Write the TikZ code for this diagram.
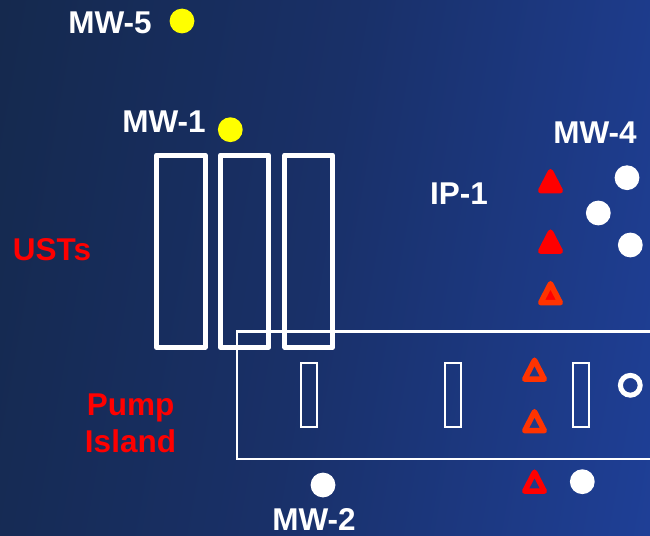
\documentclass[tikz,border=0pt]{standalone}
\usepackage{fontspec}
\setmainfont{Liberation Sans}
\definecolor{bgleft}{HTML}{14284A}
\definecolor{bgmid}{HTML}{193068}
\definecolor{bgright}{HTML}{1F4099}
\definecolor{triorange}{HTML}{FF3300}
\definecolor{markyellow}{HTML}{FFFF00}
\tikzset{
  ust/.style={draw=white,line width=5pt,line join=round},
  thinbox/.style={draw=white,line width=2.3pt},
  well/.style={circle,inner sep=0pt,minimum size=24.8pt,fill=white},
  yellowwell/.style={well,fill=markyellow},
  ringwell/.style={circle,inner sep=0pt,minimum size=19.8pt,draw=white,line width=5pt},
  whitelabel/.style={text=white,font=\fontsize{31.5}{31.5}\selectfont\bfseries,anchor=base,inner sep=0pt},
  redlabel/.style={text=red,font=\fontsize{31.5}{37}\selectfont\bfseries,anchor=base,inner sep=0pt,align=center},
  tri/.style={line width=5.5pt,line join=round}
}
\newcommand{\trimark}[3]{\path[tri,#3] (#1-9.8,#2+9.7) -- (#1,#2-9.3) -- (#1+9.8,#2+9.7) -- cycle;}
\begin{document}
\begin{tikzpicture}[x=1pt,y=-1pt]
\useasboundingbox (0,0) rectangle (650,535);
\clip (0,0) rectangle (650,535);
\shade[left color=bgleft,right color=bgright,middle color=bgmid,shading angle=80] (-100,-100) rectangle (720,640);
% tanks
\path[ust] (156.5,155) rectangle (205,347.3);
\path[ust] (220.5,155) rectangle (268.7,347.3);
\path[ust] (284.8,155) rectangle (332.5,347.3);
% pump island
\path[thinbox] (237,331.5) rectangle (670,459.3);
\path[thinbox] (301,363.3) rectangle (317,427.3);
\path[thinbox] (445,363.3) rectangle (461,427.3);
\path[thinbox] (572.7,363.3) rectangle (589,427.3);
% wells
\node[yellowwell] (mw5) at (182,21) {};
\node[yellowwell] (mw1) at (230.3,129.7) {};
\node[well] (mw4a) at (627,177.7) {};
\node[well] (mw4b) at (598.3,213) {};
\node[well] (mw4c) at (630.3,245) {};
\node[well] (mw2) at (323,485) {};
\node[well] (wellb) at (582.3,481.7) {};
\node[ringwell] (ring) at (630.3,385.3) {};
% triangles
\trimark{550.5}{181}{fill=red,draw=red}
\trimark{550.5}{241.5}{fill=red,draw=red}
\trimark{550.5}{293}{fill=red,draw=triorange}
\trimark{534.5}{369.5}{draw=triorange}
\trimark{534.5}{421}{draw=triorange}
\trimark{534.5}{481.5}{draw=red}
% labels
\node[whitelabel] (lmw5) at (110,34) {MW-5};
\node[whitelabel] (lmw1) at (164,132) {MW-1};
\node[whitelabel] (lmw4) at (595,143) {MW-4};
\node[whitelabel] (lip1) at (459,204) {IP-1};
\node[whitelabel] (lmw2) at (314,530) {MW-2};
\node[redlabel] (lust) at (52,260) {USTs};
\node[redlabel] (lpump) at (130.5,452) {Pump\\Island};
\end{tikzpicture}
\end{document}
